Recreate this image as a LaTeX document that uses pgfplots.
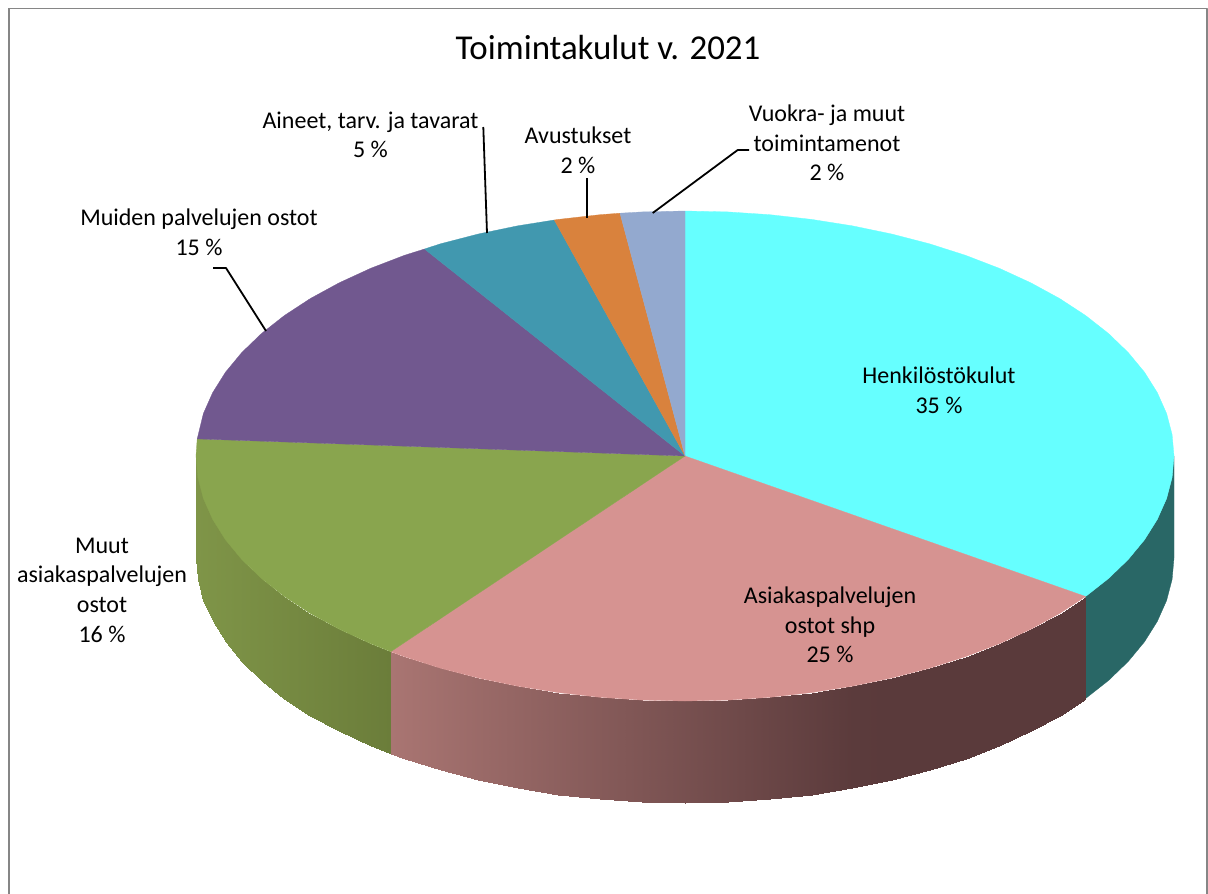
\documentclass[border=0pt]{standalone}
\usepackage{fontspec}
\setmainfont{Carlito}
\usepackage{pgfplots}
\pgfplotsset{compat=1.18}
\definecolor{cHenk}{HTML}{66FFFF}
\definecolor{cAsia}{HTML}{D69391}
\definecolor{cMuut}{HTML}{89A54E}
\definecolor{cMuid}{HTML}{71588F}
\definecolor{cAine}{HTML}{4198AF}
\definecolor{cAvus}{HTML}{D9823D}
\definecolor{cVuok}{HTML}{93A9CF}
\definecolor{cHenkD}{HTML}{296766}
\definecolor{cFrame}{HTML}{868686}
\newcommand{\lab}{\fontsize{24}{29.6}\selectfont}
\begin{document}
\begin{tikzpicture}
\begin{axis}[
  scale only axis, width=1208pt, height=894pt,
  xmin=0, xmax=1208, ymin=0, ymax=894, y dir=reverse,
  axis lines=none, point meta min=0, point meta max=1,
  every axis plot/.append style={line join=round},
]
% frame
\addplot[cFrame, line width=1.3pt] coordinates {(8.5,8.5) (1207,8.5) (1207,894)};
\addplot[cFrame, line width=1.9pt] coordinates {(8.8,894) (8.8,8)};
% side: Henkilostokulut
\addplot[fill=cHenkD, draw=cHenkD, line width=0.3pt] coordinates {
(1174,456)(1172.1,477.4)(1166.6,498.5)(1157.3,519.4)(1144.5,539.8)(1128.2,559.5)(1108.5,578.5)(1085.6,596.5)
(1085.6,698.5)(1108.5,680.5)(1128.2,661.5)(1144.5,641.8)(1157.3,621.4)(1166.6,600.5)(1172.1,579.4)(1174,558)} --cycle;
% side: Asiakaspalvelujen ostot shp
\addplot[surf, shader=interp, mesh/rows=2, point meta=explicit,
  colormap={cp}{rgb255=(169,117,114) rgb255=(90,58,59)}] table[meta=m, row sep=\\] {
x y m\\
390.7 651.7 0\\ 404.5 656.7 .029\\ 440.5 668.2 .105\\ 478.3 678.0 .186\\ 517.8 686.2 .27\\ 558.4 692.6 .357\\ 600.1 697.3 .446\\ 642.4 700.1 .536\\ 685 701 .627\\ 727.6 700.1 .718\\ 769.9 697.3 .808\\ 811.6 692.6 .897\\ 852.2 686.2 .984\\ 891.7 678.0 1\\ 929.5 668.2 1\\ 965.5 656.7 1\\ 999.3 643.7 1\\ 1030.8 629.2 1\\ 1059.6 613.5 1\\ 1085.6 596.5 1\\
390.7 753.7 0\\ 404.5 758.7 .029\\ 440.5 770.2 .105\\ 478.3 780.0 .186\\ 517.8 788.2 .27\\ 558.4 794.6 .357\\ 600.1 799.3 .446\\ 642.4 802.1 .536\\ 685 803 .627\\ 727.6 802.1 .718\\ 769.9 799.3 .808\\ 811.6 794.6 .897\\ 852.2 788.2 .984\\ 891.7 780.0 1\\ 929.5 770.2 1\\ 965.5 758.7 1\\ 999.3 745.7 1\\ 1030.8 731.2 1\\ 1059.6 715.5 1\\ 1085.6 698.5 1\\
};
% side: Muut asiakaspalvelujen ostot
\addplot[surf, shader=interp, mesh/rows=2, point meta=explicit,
  colormap={cg}{rgb255=(127,149,72) rgb255=(107,125,58)}] table[meta=m, row sep=\\] {
x y m\\
196 456 0\\ 197.9 477.4 .01\\ 203.4 498.5 .04\\ 212.7 519.4 .09\\ 225.5 539.8 .15\\ 241.8 559.5 .23\\ 261.5 578.5 .34\\ 284.4 596.5 .45\\ 310.4 613.5 .585\\ 339.2 629.2 .73\\ 370.7 643.7 .9\\ 390.7 651.7 1\\
196 558 0\\ 197.9 579.4 .01\\ 203.4 600.5 .04\\ 212.7 621.4 .09\\ 225.5 641.8 .15\\ 241.8 661.5 .23\\ 261.5 680.5 .34\\ 284.4 698.5 .45\\ 310.4 715.5 .585\\ 339.2 731.2 .73\\ 370.7 745.7 .9\\ 390.7 753.7 1\\
};
% top faces
\addplot[fill=cHenk, draw=cHenk, line width=0.3pt] coordinates {(685,456)
(685,211)(727.6,211.9)(769.9,214.7)(811.6,219.4)(852.2,225.8)(891.7,234.0)(929.5,243.8)(965.5,255.3)(999.3,268.3)(1030.8,282.8)(1059.6,298.5)(1085.6,315.5)(1108.5,333.5)(1128.2,352.5)(1144.5,372.2)(1157.3,392.6)(1166.6,413.5)(1172.1,434.6)(1174,456)(1172.1,477.4)(1166.6,498.5)(1157.3,519.4)(1144.5,539.8)(1128.2,559.5)(1108.5,578.5)(1085.6,596.5)} --cycle;
\addplot[fill=cAsia, draw=cAsia, line width=0.3pt] coordinates {(685,456)
(1085.6,596.5)(1059.6,613.5)(1030.8,629.2)(999.3,643.7)(965.5,656.7)(929.5,668.2)(891.7,678.0)(852.2,686.2)(811.6,692.6)(769.9,697.3)(727.6,700.1)(685,701)(642.4,700.1)(600.1,697.3)(558.4,692.6)(517.8,686.2)(478.3,678.0)(440.5,668.2)(404.5,656.7)(390.7,651.7)} --cycle;
\addplot[fill=cMuut, draw=cMuut, line width=0.3pt] coordinates {(685,456)
(390.7,651.7)(370.7,643.7)(339.2,629.2)(310.4,613.5)(284.4,596.5)(261.5,578.5)(241.8,559.5)(225.5,539.8)(212.7,519.4)(203.4,498.5)(197.9,477.4)(196,456)(197.2,438.9)} --cycle;
\addplot[fill=cMuid, draw=cMuid, line width=0.3pt] coordinates {(685,456)
(197.2,438.9)(203.4,413.5)(212.7,392.6)(225.5,372.2)(241.8,352.5)(261.5,333.5)(284.4,315.5)(310.4,298.5)(339.2,282.8)(370.7,268.3)(404.5,255.3)(424.5,249)} --cycle;
\addplot[fill=cAine, draw=cAine, line width=0.3pt] coordinates {(685,456)
(424.5,249)(440.5,243.8)(478.3,234.0)(517.8,225.8)(554.3,220)} --cycle;
\addplot[fill=cAvus, draw=cAvus, line width=0.3pt] coordinates {(685,456)
(554.3,220)(558.4,219.4)(600.1,214.7)(620,213.2)} --cycle;
\addplot[fill=cVuok, draw=cVuok, line width=0.3pt] coordinates {(685,456)
(620,213.2)(642.4,211.9)(685,211)} --cycle;
% leader lines
\addplot[black, line width=1.8pt] coordinates {(483.3,127)(487,233)};
\addplot[black, line width=1.8pt] coordinates {(587,178)(587,218)};
\addplot[black, line width=1.8pt] coordinates {(749,150)(737.7,150)(652.7,213)};
\addplot[black, line width=1.8pt] coordinates {(213,268)(226,268)(266,331)};
% texts
\node[font=\fontsize{34.9}{40}\selectfont] at (axis cs:608,48) {Toimintakulut v. 2021};
\node[font=\lab, align=center] at (axis cs:939,390.5) {Henkilöstökulut\\35 \%};
\node[font=\lab, align=center] at (axis cs:830,625) {Asiakaspalvelujen\\ostot shp\\25 \%};
\node[font=\lab, align=center] at (axis cs:102,590) {Muut\\asiakaspalvelujen\\ostot\\16 \%};
\node[font=\lab, align=center] at (axis cs:199,232.5) {Muiden palvelujen ostot\\15 \%};
\node[font=\lab, align=center] at (axis cs:370.5,135) {Aineet, tarv. ja tavarat\\5 \%};
\node[font=\lab, align=center] at (axis cs:578,150.5) {Avustukset\\2 \%};
\node[font=\lab, align=center] at (axis cs:827,143) {Vuokra- ja muut\\toimintamenot\\2 \%};
\end{axis}
\path[use as bounding box] (0,0) rectangle (1208pt,894pt);
\end{tikzpicture}
\end{document}
